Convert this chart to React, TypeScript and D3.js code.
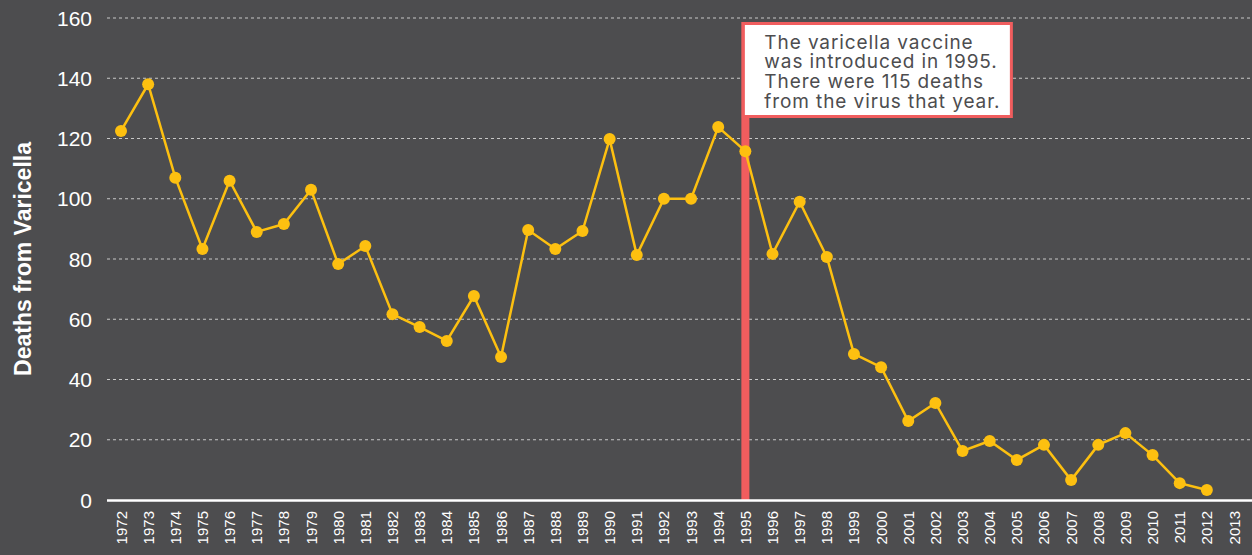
import React, { useEffect, useRef } from 'react';
import * as d3 from 'd3';

const years = d3.range(1972, 2014);
const deaths = [
  122.5, 138, 107, 83.3, 106, 89, 91.6, 103, 78.3, 84.3,
  61.7, 57.4, 52.8, 67.7, 47.5, 89.6, 83.3, 89.3, 119.8, 81.3,
  100, 100, 123.8, 115.8, 81.7, 99, 80.7, 48.5, 44.1, 26.2,
  32.2, 16.3, 19.6, 13.3, 18.3, 6.6, 18.3, 22.2, 14.9, 5.6,
  3.3,
];
const yTicks = [0, 20, 40, 60, 80, 100, 120, 140, 160];
const vaccineYear = 1995;
const noteLines = [
  'The varicella vaccine',
  'was introduced in 1995.',
  'There were 115 deaths',
  'from the virus that year.',
];

const W = 1252;
const H = 555;
const BG = '#4d4d4f';
const YELLOW = '#fdc010';
const RED = '#f05d5e';
const SANS = 'Liberation Sans, Arial, sans-serif';

const App = () => {
  const ref = useRef<SVGSVGElement>(null);

  useEffect(() => {
    const svg = d3.select(ref.current);
    svg.selectAll('*').remove();

    const x = d3.scalePoint<number>().domain(years).range([121, 1234]);
    const y = d3.scaleLinear().domain([0, 160]).range([500, 18]);

    svg.append('rect').attr('width', W).attr('height', H).attr('fill', BG);

    // grid
    svg.append('g')
      .selectAll('line')
      .data(yTicks.filter(d => d > 0))
      .join('line')
      .attr('x1', 107).attr('x2', W)
      .attr('y1', d => y(d)).attr('y2', d => y(d))
      .attr('stroke', '#c8c8c8')
      .attr('stroke-width', 1)
      .attr('stroke-dasharray', '3,3');

    // y tick labels
    svg.append('g')
      .selectAll('text')
      .data(yTicks)
      .join('text')
      .attr('x', 92)
      .attr('y', d => y(d))
      .attr('dy', '0.36em')
      .attr('text-anchor', 'end')
      .attr('fill', '#ffffff')
      .attr('font-family', SANS)
      .attr('font-size', 21)
      .text(d => d);

    // y axis title
    svg.append('text')
      .attr('transform', `translate(31,${y(80)}) rotate(-90)`)
      .attr('text-anchor', 'middle')
      .attr('fill', '#ffffff')
      .attr('font-family', SANS)
      .attr('font-weight', 'bold')
      .attr('font-size', 23)
      .text('Deaths from Varicella');

    // x labels
    svg.append('g')
      .selectAll('text')
      .data(years)
      .join('text')
      .attr('transform', d => `translate(${x(d)! + 5.5},511) rotate(-90)`)
      .attr('text-anchor', 'end')
      .attr('fill', '#ffffff')
      .attr('font-family', SANS)
      .attr('font-size', 15)
      .text(d => d);

    // vaccine line
    svg.append('rect')
      .attr('x', x(vaccineYear)! - 4)
      .attr('y', 22)
      .attr('width', 8)
      .attr('height', y(0) - 22)
      .attr('fill', RED);

    // series
    const pts = deaths.map((v, i) => [years[i], v] as [number, number]);
    svg.append('path')
      .datum(pts)
      .attr('fill', 'none')
      .attr('stroke', YELLOW)
      .attr('stroke-width', 2.5)
      .attr('d', d3.line<[number, number]>().x(d => x(d[0])!).y(d => y(d[1])));

    svg.append('g')
      .selectAll('circle')
      .data(pts)
      .join('circle')
      .attr('cx', d => x(d[0])!)
      .attr('cy', d => y(d[1]))
      .attr('r', 6)
      .attr('fill', YELLOW);

    // x axis line
    svg.append('line')
      .attr('x1', 107).attr('x2', W)
      .attr('y1', y(0) + 0.5).attr('y2', y(0) + 0.5)
      .attr('stroke', '#ffffff')
      .attr('stroke-width', 2.5);

    // annotation
    const bx = x(vaccineYear)! - 2;
    svg.append('rect')
      .attr('x', bx)
      .attr('y', 23.5)
      .attr('width', 268)
      .attr('height', 93)
      .attr('fill', '#ffffff')
      .attr('stroke', RED)
      .attr('stroke-width', 3);

    svg.append('g')
      .selectAll('text')
      .data(noteLines)
      .join('text')
      .attr('x', bx + 21)
      .attr('y', (d, i) => 48.5 + i * 19.8)
      .attr('fill', '#4d4d4f')
      .attr('font-family', 'Inter, sans-serif')
      .attr('font-size', 19)
      .attr('letter-spacing', 0.9)
      .text(d => d);
  }, []);

  return (
    <svg
      ref={ref}
      width={W}
      height={H}
      style={{ position: 'absolute', left: 0, top: 0, display: 'block' }}
    />
  );
};

export default App;
